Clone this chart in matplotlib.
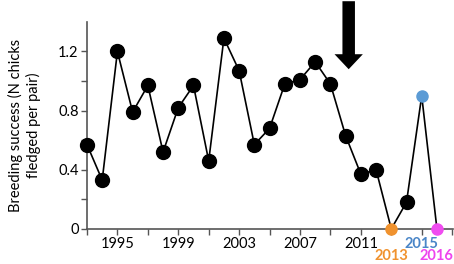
import matplotlib.pyplot as plt
import matplotlib.transforms as mtransforms

plt.rcParams['font.family'] = ['Lato', 'DejaVu Sans']

years = list(range(1993, 2017))
success = [0.57, 0.33, 1.20, 0.79, 0.97, 0.52, 0.82, 0.97, 0.46, 1.29,
           1.07, 0.57, 0.68, 0.98, 1.01, 1.13, 0.98, 0.63, 0.37, 0.40,
           0.00, 0.18, 0.90, 0.00]

special = {2013: '#F0922E', 2015: '#5B9BD5', 2016: '#F04CF0'}
label_colors = {2013: '#F0922E', 2015: '#4A86C8', 2016: '#EE44EE'}

black_labels = [1995, 1999, 2003, 2007, 2011]

fig = plt.figure(figsize=(4.54, 2.64), dpi=100)
ax = fig.add_axes([0.1916, 0.133, 0.806, 0.784])

ax.plot(years, success, color='black', lw=1.2, zorder=2, clip_on=False)
for y, v in zip(years, success):
    if y in special:
        ax.plot(y, v, 'o', ms=8, color=special[y], zorder=3, clip_on=False)
    else:
        ax.plot(y, v, 'o', ms=10, color='black', zorder=3, clip_on=False)

ax.set_xlim(1993, 2017.05)
ax.set_ylim(0, 1.4)

ax.set_xticks(range(1993, 2018, 2))
ax.set_xticklabels([str(t) if t in black_labels else '' for t in range(1993, 2018, 2)])
ax.set_yticks([0, 0.2, 0.4, 0.6, 0.8, 1.0, 1.2])
ax.set_yticklabels(['0', '', '0.4', '', '0.8', '', '1.2'])
ax.tick_params(direction='out', length=4, width=1, color='#555555',
               labelsize=10.5, pad=2)

for s in ['top', 'right']:
    ax.spines[s].set_visible(False)
for s in ['left', 'bottom']:
    ax.spines[s].set_color('#555555')
    ax.spines[s].set_linewidth(1.2)

trans = mtransforms.blended_transform_factory(ax.transData, fig.transFigure)
ax.text(2013, 1 - 256 / 264, '2013', color=label_colors[2013], transform=trans,
        ha='center', va='center', fontsize=10.5, fontweight='bold')
ax.text(2015, 1 - 244 / 264, '2015', color=label_colors[2015], transform=trans,
        ha='center', va='center', fontsize=10.5, fontweight='bold')
ax.text(2016, 1 - 256 / 264, '2016', color=label_colors[2016], transform=trans,
        ha='center', va='center', fontsize=10.5, fontweight='bold')

ax.set_ylabel('Breeding success (N chicks\nfledged per pair)', fontsize=10.5,
              linespacing=1.3, labelpad=12)

# arrow marking the event year
ax.annotate('', xy=(2010.2, 1.08), xytext=(2010.2, 1.54),
            annotation_clip=False,
            arrowprops=dict(arrowstyle='simple,head_width=1.7,head_length=0.9,tail_width=0.75',
                            color='black', lw=0, shrinkA=0, shrinkB=0,
                            mutation_scale=12))

fig.savefig('out.png', dpi=100)
